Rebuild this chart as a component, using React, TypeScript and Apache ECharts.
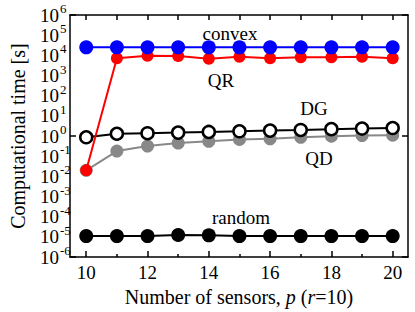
import React, { useEffect, useRef } from "react";
import * as echarts from "echarts";

const sensors = [10, 11, 12, 13, 14, 15, 16, 17, 18, 19, 20];
const convex = [2.5e4, 2.5e4, 2.5e4, 2.5e4, 2.5e4, 2.5e4, 2.5e4, 2.5e4, 2.5e4, 2.5e4, 2.5e4];
const qr = [0.02, 7.2e3, 9.5e3, 9.3e3, 6.8e3, 8.5e3, 7.2e3, 8.0e3, 8.0e3, 8.5e3, 7.2e3];
const dg = [0.87, 1.3, 1.38, 1.48, 1.6, 1.72, 1.86, 2.0, 2.2, 2.35, 2.5];
const qd = [0.02, 0.18, 0.32, 0.45, 0.55, 0.68, 0.73, 0.87, 0.98, 1.05, 1.1];
const random = [1.1e-5, 1.1e-5, 1.1e-5, 1.25e-5, 1.2e-5, 1.1e-5, 1.1e-5, 1.1e-5, 1.1e-5, 1.1e-5, 1.1e-5];
const xMajorTicks = [10, 12, 14, 16, 18, 20];
const xMinorTicks = [11, 13, 15, 17, 19];
const yExponents = [-6, -5, -4, -3, -2, -1, 0, 1, 2, 3, 4, 5, 6];

const FONT = "'Liberation Serif', 'Times New Roman', serif";

const pair = (ys: number[]) => sensors.map((x, i) => [x, ys[i]]);
const yTickValues = yExponents.map((e) => Math.pow(10, e));

export default function App() {
  const ref = useRef<HTMLDivElement>(null);
  useEffect(() => {
    if (!ref.current) return;
    const chart = echarts.init(ref.current, undefined, { renderer: "svg" });
    const axisLine = { show: true, onZero: false, lineStyle: { color: "#000", width: 1.5 } };
    const line = (name: string, data: number[], color: string, fill: string, size: number, z: number) => ({
      name,
      type: "line",
      data: pair(data),
      symbol: "circle",
      symbolSize: size,
      z,
      lineStyle: { color, width: 2 },
      itemStyle: {
        color: fill,
        borderColor: color,
        borderWidth: name === "DG" ? 2.5 : 0,
      },
    });
    const ann = (text: string, x: number, y: number) => ({
      type: "text",
      x,
      y,
      style: { text, font: `19px ${FONT}`, fill: "#000", align: "center", verticalAlign: "middle" },
    });
    const logAxis = {
      type: "log",
      logBase: 10,
      min: 1e-6,
      max: 1e6,
      splitLine: { show: false },
    };
    chart.setOption({
      animation: false,
      backgroundColor: "#fff",
      textStyle: { fontFamily: FONT },
      grid: { left: 64, right: 7, top: 15, bottom: 54 },
      xAxis: [
        {
          type: "value",
          min: 9.47,
          max: 20.5,
          position: "bottom",
          axisLine,
          splitLine: { show: false },
          axisTick: { inside: true, length: 6, customValues: xMajorTicks, lineStyle: { color: "#000", width: 1.5 } },
          axisLabel: { customValues: xMajorTicks, fontSize: 19, color: "#000", fontFamily: FONT, margin: 6 },
          name: "Number of sensors, {i|p} ({i|r}=10)",
          nameLocation: "middle",
          nameGap: 27,
          nameTextStyle: {
            fontSize: 20,
            color: "#000",
            fontFamily: FONT,
            rich: { i: { fontStyle: "italic", fontSize: 20, fontFamily: FONT, color: "#000" } },
          },
        },
        {
          type: "value",
          min: 9.47,
          max: 20.5,
          position: "bottom",
          axisLine: { show: false, onZero: false },
          splitLine: { show: false },
          axisTick: { inside: true, length: 3, customValues: xMinorTicks, lineStyle: { color: "#000", width: 1.5 } },
          axisLabel: { show: false },
        },
        {
          type: "value",
          min: 9.47,
          max: 20.5,
          position: "top",
          axisLine,
          splitLine: { show: false },
          axisTick: { inside: true, length: 5, customValues: sensors, lineStyle: { color: "#000", width: 1.5 } },
          axisLabel: { show: false },
        },
      ],
      yAxis: [
        {
          ...logAxis,
          position: "left",
          axisLine,
          axisTick: { inside: true, length: 6, lineStyle: { color: "#000", width: 1.5 } },
          axisLabel: {
            customValues: yTickValues,
            showMinLabel: true,
            showMaxLabel: true,
            hideOverlap: false,
            margin: 11,
            fontSize: 19,
            color: "#000",
            fontFamily: FONT,
            formatter: () => "10",
          },
          name: "Computational time [s]",
          nameLocation: "middle",
          nameRotate: 90,
          nameGap: 42,
          nameTextStyle: { fontSize: 20, color: "#000", fontFamily: FONT },
        },
        {
          ...logAxis,
          position: "left",
          axisLine: { show: false, onZero: false },
          axisTick: { show: false },
          axisLabel: {
            customValues: yTickValues,
            showMinLabel: true,
            showMaxLabel: true,
            hideOverlap: false,
            margin: 10,
            align: "left",
            verticalAlign: "bottom",
            fontSize: 13,
            color: "#000",
            fontFamily: FONT,
            formatter: (v: number) => String(Math.round(Math.log10(v))),
          },
        },
        {
          ...logAxis,
          position: "right",
          axisLine,
          axisTick: { inside: true, length: 6, lineStyle: { color: "#000", width: 1.5 } },
          axisLabel: { show: false },
        },
      ],
      series: [
        line("QD", qd, "#888888", "#888888", 13, 2),
        line("DG", dg, "#000000", "#ffffff", 12, 3),
        line("QR", qr, "#ff0000", "#ff0000", 12, 4),
        line("convex", convex, "#0000ff", "#0000ff", 14, 5),
        line("random", random, "#000000", "#000000", 14, 6),
      ],
      graphic: [
        ann("convex", 230, 33),
        ann("QR", 221, 80),
        ann("DG", 314, 108),
        ann("QD", 319, 158),
        ann("random", 241, 217),
      ],
    });
    return () => chart.dispose();
  }, []);
  return <div ref={ref} style={{ width: 415, height: 312, position: "absolute", left: 0, top: 0 }} />;
}
